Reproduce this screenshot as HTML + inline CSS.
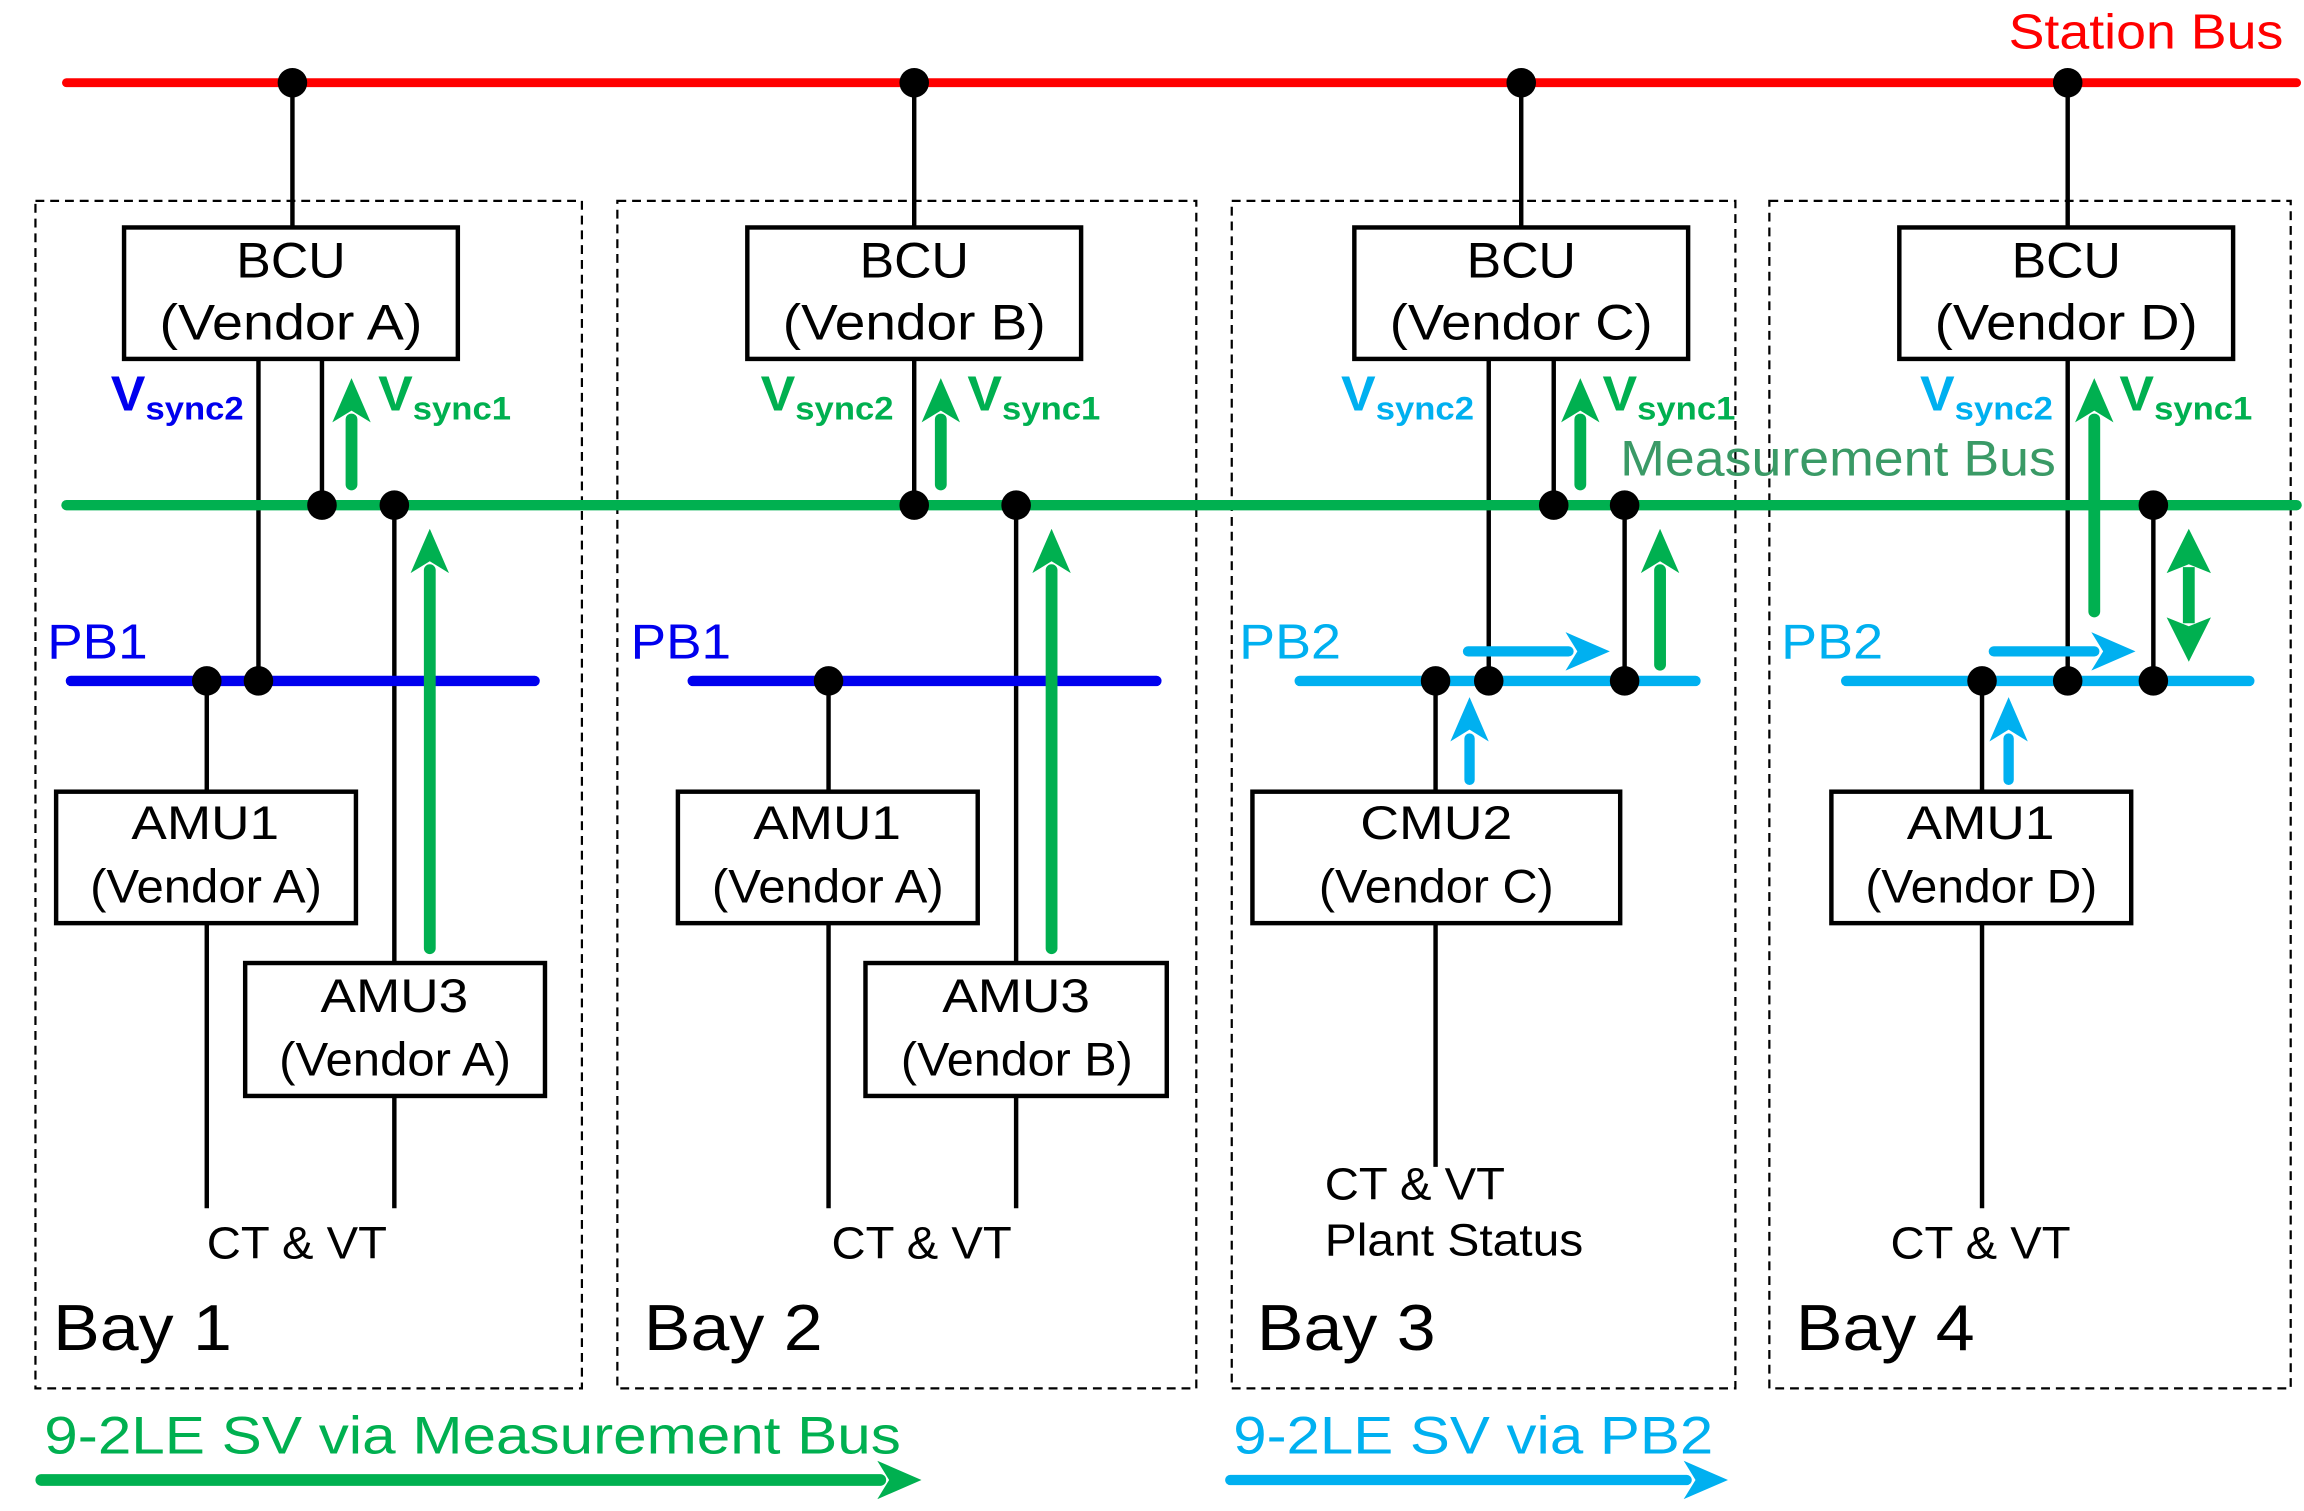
<!DOCTYPE html>
<html><head><meta charset="utf-8"><style>
html,body{margin:0;padding:0;background:#fff;}
svg{display:block;}
text{font-family:"Liberation Sans",Arial,sans-serif;}
</style></head><body>
<svg width="2304" height="1511" viewBox="0 0 1560 1023" preserveAspectRatio="none" xmlns="http://www.w3.org/2000/svg">
<defs>
<marker id="ag" markerUnits="userSpaceOnUse" markerWidth="30" markerHeight="30" refX="2" refY="15" orient="auto"><path d="M0,2 L30,15 L0,28 L8,15 Z" fill="#00b050"/></marker>
<marker id="ab" markerUnits="userSpaceOnUse" markerWidth="30" markerHeight="30" refX="2" refY="15" orient="auto"><path d="M0,2 L30,15 L0,28 L8,15 Z" fill="#00b0f0"/></marker>
</defs>
<g fill="none" stroke="#000" stroke-width="1.5" stroke-dasharray="6,4">
<rect x="24" y="136" width="370" height="804"/>
<rect x="418" y="136" width="392" height="804"/>
<rect x="834" y="136" width="341" height="804"/>
<rect x="1198" y="136" width="353" height="804"/>
</g>
<g stroke="#000" stroke-width="3" fill="none">
<line x1="198" y1="56" x2="198" y2="154"/><line x1="619" y1="56" x2="619" y2="154"/>
<line x1="1030" y1="56" x2="1030" y2="154"/><line x1="1400" y1="56" x2="1400" y2="154"/>
<line x1="175" y1="243" x2="175" y2="461"/><line x1="218" y1="243" x2="218" y2="342"/>
<line x1="267" y1="342" x2="267" y2="652"/><line x1="267" y1="742" x2="267" y2="818"/>
<line x1="140" y1="461" x2="140" y2="536"/><line x1="140" y1="625" x2="140" y2="818"/>
<line x1="619" y1="243" x2="619" y2="342"/>
<line x1="688" y1="342" x2="688" y2="652"/><line x1="688" y1="742" x2="688" y2="818"/>
<line x1="561" y1="461" x2="561" y2="536"/><line x1="561" y1="625" x2="561" y2="818"/>
<line x1="1008" y1="243" x2="1008" y2="461"/><line x1="1052" y1="243" x2="1052" y2="342"/>
<line x1="1100" y1="342" x2="1100" y2="461"/>
<line x1="972" y1="461" x2="972" y2="536"/><line x1="972" y1="625" x2="972" y2="790"/>
<line x1="1400" y1="243" x2="1400" y2="461"/>
<line x1="1458" y1="342" x2="1458" y2="461"/>
<line x1="1342" y1="461" x2="1342" y2="536"/><line x1="1342" y1="625" x2="1342" y2="818"/>
</g>
<line x1="45" y1="56" x2="1555" y2="56" stroke="#ff0000" stroke-width="6" stroke-linecap="round"/>
<line x1="45" y1="342" x2="1555" y2="342" stroke="#00b050" stroke-width="7" stroke-linecap="round"/>
<line x1="48" y1="461" x2="362" y2="461" stroke="#0000ee" stroke-width="7" stroke-linecap="round"/>
<line x1="469" y1="461" x2="783" y2="461" stroke="#0000ee" stroke-width="7" stroke-linecap="round"/>
<line x1="880" y1="461" x2="1148" y2="461" stroke="#00b0f0" stroke-width="7" stroke-linecap="round"/>
<line x1="1250" y1="461" x2="1523" y2="461" stroke="#00b0f0" stroke-width="7" stroke-linecap="round"/>
<g fill="#fff" stroke="#000" stroke-width="3">
<rect x="84" y="154" width="226" height="89"/><rect x="506" y="154" width="226" height="89"/>
<rect x="917" y="154" width="226" height="89"/><rect x="1286" y="154" width="226" height="89"/>
<rect x="38" y="536" width="203" height="89"/><rect x="166" y="652" width="203" height="90"/>
<rect x="459" y="536" width="203" height="89"/><rect x="586" y="652" width="204" height="90"/>
<rect x="848" y="536" width="249" height="89"/><rect x="1240" y="536" width="203" height="89"/>
</g>
<g fill="#000">
<circle cx="198" cy="56" r="10"/><circle cx="619" cy="56" r="10"/><circle cx="1030" cy="56" r="10"/><circle cx="1400" cy="56" r="10"/>
<circle cx="218" cy="342" r="10"/><circle cx="267" cy="342" r="10"/><circle cx="619" cy="342" r="10"/><circle cx="688" cy="342" r="10"/>
<circle cx="1052" cy="342" r="10"/><circle cx="1100" cy="342" r="10"/><circle cx="1458" cy="342" r="10"/>
<circle cx="140" cy="461" r="10"/><circle cx="175" cy="461" r="10"/><circle cx="561" cy="461" r="10"/>
<circle cx="972" cy="461" r="10"/><circle cx="1008" cy="461" r="10"/><circle cx="1100" cy="461" r="10"/>
<circle cx="1342" cy="461" r="10"/><circle cx="1400" cy="461" r="10"/><circle cx="1458" cy="461" r="10"/>
</g>
<g stroke="#00b050" stroke-width="8" stroke-linecap="round" fill="none">
<line x1="238" y1="328" x2="238" y2="284" marker-end="url(#ag)"/>
<line x1="291" y1="642" x2="291" y2="386" marker-end="url(#ag)"/>
<line x1="637" y1="328" x2="637" y2="284" marker-end="url(#ag)"/>
<line x1="712" y1="642" x2="712" y2="386" marker-end="url(#ag)"/>
<line x1="1070" y1="328" x2="1070" y2="284" marker-end="url(#ag)"/>
<line x1="1124" y1="450" x2="1124" y2="386" marker-end="url(#ag)"/>
<line x1="1418" y1="414" x2="1418" y2="284" marker-end="url(#ag)"/>
<line x1="1482" y1="384" x2="1482" y2="422" stroke-linecap="butt"/>
<line x1="28" y1="1002" x2="596" y2="1002" marker-end="url(#ag)"/>
</g>
<polygon points="1482,358 1467,388 1482,382 1497,388" fill="#00b050"/>
<polygon points="1482,448 1467,418 1482,424 1497,418" fill="#00b050"/>
<g stroke="#00b0f0" stroke-width="7" stroke-linecap="round" fill="none">
<line x1="994" y1="441" x2="1062" y2="441" marker-end="url(#ab)"/>
<line x1="1350" y1="441" x2="1418" y2="441" marker-end="url(#ab)"/>
<line x1="995" y1="528" x2="995" y2="500" marker-end="url(#ab)"/>
<line x1="1360" y1="528" x2="1360" y2="500" marker-end="url(#ab)"/>
<line x1="833" y1="1002" x2="1142" y2="1002" marker-end="url(#ab)"/>
</g>
<g font-size="34" fill="#000" lengthAdjust="spacingAndGlyphs">
<text x="160" y="188" textLength="74" lengthAdjust="spacingAndGlyphs">BCU</text><text x="108" y="230" textLength="178" lengthAdjust="spacingAndGlyphs">(Vendor A)</text>
<text x="582" y="188" textLength="74" lengthAdjust="spacingAndGlyphs">BCU</text><text x="530" y="230" textLength="178" lengthAdjust="spacingAndGlyphs">(Vendor B)</text>
<text x="993" y="188" textLength="74" lengthAdjust="spacingAndGlyphs">BCU</text><text x="941" y="230" textLength="178" lengthAdjust="spacingAndGlyphs">(Vendor C)</text>
<text x="1362" y="188" textLength="74" lengthAdjust="spacingAndGlyphs">BCU</text><text x="1310" y="230" textLength="178" lengthAdjust="spacingAndGlyphs">(Vendor D)</text>
</g>
<g font-size="32" fill="#000">
<text x="89" y="568" textLength="100" lengthAdjust="spacingAndGlyphs">AMU1</text><text x="61" y="611" textLength="157" lengthAdjust="spacingAndGlyphs">(Vendor A)</text>
<text x="217" y="685" textLength="100" lengthAdjust="spacingAndGlyphs">AMU3</text><text x="189" y="728" textLength="157" lengthAdjust="spacingAndGlyphs">(Vendor A)</text>
<text x="510" y="568" textLength="100" lengthAdjust="spacingAndGlyphs">AMU1</text><text x="482" y="611" textLength="157" lengthAdjust="spacingAndGlyphs">(Vendor A)</text>
<text x="638" y="685" textLength="100" lengthAdjust="spacingAndGlyphs">AMU3</text><text x="610" y="728" textLength="157" lengthAdjust="spacingAndGlyphs">(Vendor B)</text>
<text x="921" y="568" textLength="103" lengthAdjust="spacingAndGlyphs">CMU2</text><text x="893" y="611" textLength="159" lengthAdjust="spacingAndGlyphs">(Vendor C)</text>
<text x="1291" y="568" textLength="100" lengthAdjust="spacingAndGlyphs">AMU1</text><text x="1263" y="611" textLength="157" lengthAdjust="spacingAndGlyphs">(Vendor D)</text>
</g>
<g font-size="31" fill="#000">
<text x="140" y="852" textLength="122" lengthAdjust="spacingAndGlyphs">CT &amp; VT</text>
<text x="563" y="852" textLength="122" lengthAdjust="spacingAndGlyphs">CT &amp; VT</text>
<text x="897" y="812" textLength="122" lengthAdjust="spacingAndGlyphs">CT &amp; VT</text>
<text x="897" y="850" textLength="175" lengthAdjust="spacingAndGlyphs">Plant Status</text>
<text x="1280" y="852" textLength="122" lengthAdjust="spacingAndGlyphs">CT &amp; VT</text>
</g>
<g font-size="44" fill="#000">
<text x="36" y="914" textLength="121" lengthAdjust="spacingAndGlyphs">Bay 1</text>
<text x="436" y="914" textLength="121" lengthAdjust="spacingAndGlyphs">Bay 2</text>
<text x="851" y="914" textLength="121" lengthAdjust="spacingAndGlyphs">Bay 3</text>
<text x="1216" y="914" textLength="121" lengthAdjust="spacingAndGlyphs">Bay 4</text>
</g>
<text x="1360" y="33" font-size="33" fill="#ff0000" textLength="186" lengthAdjust="spacingAndGlyphs">Station Bus</text>
<text x="1097" y="322" font-size="34" fill="#3a9a66" textLength="295" lengthAdjust="spacingAndGlyphs">Measurement Bus</text>
<text x="32" y="446" font-size="33" fill="#0000ee" textLength="68" lengthAdjust="spacingAndGlyphs">PB1</text>
<text x="427" y="446" font-size="33" fill="#0000ee" textLength="68" lengthAdjust="spacingAndGlyphs">PB1</text>
<text x="839" y="446" font-size="33" fill="#00b0f0" textLength="69" lengthAdjust="spacingAndGlyphs">PB2</text>
<text x="1206" y="446" font-size="33" fill="#00b0f0" textLength="69" lengthAdjust="spacingAndGlyphs">PB2</text>
<text x="30" y="984" font-size="36" fill="#00b050" textLength="580" lengthAdjust="spacingAndGlyphs">9-2LE SV via Measurement Bus</text>
<text x="835" y="984" font-size="36" fill="#00b0f0" textLength="325" lengthAdjust="spacingAndGlyphs">9-2LE SV via PB2</text>
<g font-weight="bold">
<text x="75" y="278" font-size="33" fill="#0000ee" textLength="90" lengthAdjust="spacingAndGlyphs">V<tspan font-size="22" dy="6">sync2</tspan></text>
<text x="256" y="278" font-size="33" fill="#00b050" textLength="90" lengthAdjust="spacingAndGlyphs">V<tspan font-size="22" dy="6">sync1</tspan></text>
<text x="515" y="278" font-size="33" fill="#00b050" textLength="90" lengthAdjust="spacingAndGlyphs">V<tspan font-size="22" dy="6">sync2</tspan></text>
<text x="655" y="278" font-size="33" fill="#00b050" textLength="90" lengthAdjust="spacingAndGlyphs">V<tspan font-size="22" dy="6">sync1</tspan></text>
<text x="908" y="278" font-size="33" fill="#00b0f0" textLength="90" lengthAdjust="spacingAndGlyphs">V<tspan font-size="22" dy="6">sync2</tspan></text>
<text x="1085" y="278" font-size="33" fill="#00b050" textLength="90" lengthAdjust="spacingAndGlyphs">V<tspan font-size="22" dy="6">sync1</tspan></text>
<text x="1300" y="278" font-size="33" fill="#00b0f0" textLength="90" lengthAdjust="spacingAndGlyphs">V<tspan font-size="22" dy="6">sync2</tspan></text>
<text x="1435" y="278" font-size="33" fill="#00b050" textLength="90" lengthAdjust="spacingAndGlyphs">V<tspan font-size="22" dy="6">sync1</tspan></text>
</g>
</svg>
</body></html>
